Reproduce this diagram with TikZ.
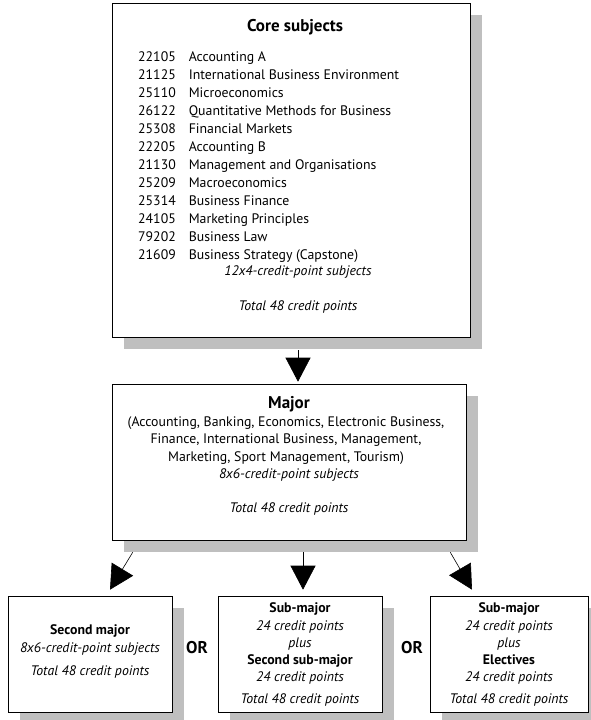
\documentclass[tikz,border=0pt]{standalone}
\usepackage{fontspec}
\setmainfont{PT Sans}
\usetikzlibrary{arrows.meta,shadows}
\begin{document}
\begin{tikzpicture}[x=1pt,y=-1pt,
  box/.style={draw=black, line width=0.6pt, fill=white, inner sep=0pt,
    general shadow={fill=gray!50, shadow xshift=12pt, shadow yshift=-12pt}},
  txt/.style={font=\fontsize{13.8}{18}\selectfont, inner sep=0pt, anchor=base},
  itx/.style={font=\fontsize{13.8}{18}\selectfont\itshape, inner sep=0pt, anchor=base},
  ttl/.style={font=\fontsize{17}{20}\selectfont\bfseries, inner sep=0pt, anchor=base},
  btx/.style={font=\fontsize{13.8}{18}\selectfont\bfseries, inner sep=0pt, anchor=base},
  arr/.style={line width=0.6pt, -{Triangle[length=24pt,width=25pt]}}]
\useasboundingbox (0,0) rectangle (590,720);
% boxes
\node[box, minimum width=358pt, minimum height=334pt] (core) at (291,170) {};
\node[box, minimum width=354pt, minimum height=156pt] (major) at (289,462) {};
\node[box, minimum width=164pt, minimum height=116pt] (left) at (90,654) {};
\node[box, minimum width=164pt, minimum height=116pt] (mid) at (300,654) {};
\node[box, minimum width=158pt, minimum height=116pt] (right) at (509,654) {};
% core text
\node[ttl] (coretitle) at (295,31) {Core subjects};
\node[font=\fontsize{13.8}{18}\selectfont, inner sep=0pt, anchor=north west] (subjects) at (138,48.5) {%
\begin{tabular}{@{}l@{\hspace{13pt}}l@{}}
22105 & Accounting A\\
21125 & International Business Environment\\
25110 & Microeconomics\\
26122 & Quantitative Methods for Business\\
25308 & Financial Markets\\
22205 & Accounting B\\
21130 & Management and Organisations\\
25209 & Macroeconomics\\
25314 & Business Finance\\
24105 & Marketing Principles\\
79202 & Business Law\\
21609 & Business Strategy (Capstone)
\end{tabular}};
\node[itx] (coresub) at (298,275) {12x4-credit-point subjects};
\node[itx] (coretot) at (298,310) {Total 48 credit points};
% major text
\node[ttl] (majtitle) at (289,408) {Major};
\node[txt] (majl1) at (286,426) {(Accounting, Banking, Economics, Electronic Business,};
\node[txt] (majl2) at (286,443) {Finance, International Business, Management,};
\node[txt] (majl3) at (286,461) {Marketing, Sport Management, Tourism)};
\node[itx] (majsub) at (289,478) {8x6-credit-point subjects};
\node[itx] (majtot) at (289,512) {Total 48 credit points};
% left box text
\node[btx] (lt1) at (90,634) {Second major};
\node[itx] (lt2) at (90,652) {8x6-credit-point subjects};
\node[itx] (lt3) at (90,675) {Total 48 credit points};
% middle box text
\node[btx] (mt1) at (300,612) {Sub-major};
\node[itx] (mt2) at (300,630) {24 credit points};
\node[itx] (mt3) at (300,647) {plus};
\node[btx] (mt4) at (300,664) {Second sub-major};
\node[itx] (mt5) at (300,681) {24 credit points};
\node[itx] (mt6) at (300,703) {Total 48 credit points};
% right box text
\node[btx] (rt1) at (509,612) {Sub-major};
\node[itx] (rt2) at (509,630) {24 credit points};
\node[itx] (rt3) at (509,647) {plus};
\node[btx] (rt4) at (509,664) {Electives};
\node[itx] (rt5) at (509,681) {24 credit points};
\node[itx] (rt6) at (509,703) {Total 48 credit points};
% OR labels
\node[ttl] (or1) at (197,653) {OR};
\node[ttl] (or2) at (412,653) {OR};
% arrows
\draw[arr] ([xshift=7pt,yshift=-13pt]core.south) -- ([xshift=9pt,yshift=2pt]major.north);
\draw[arr] ([xshift=21pt,yshift=-12pt]major.south west) -- ([xshift=20pt,yshift=6pt]left.north);
\draw[arr] ([xshift=14pt,yshift=-12pt]major.south) -- ([xshift=3pt,yshift=6pt]mid.north);
\draw[arr] ([xshift=-16pt,yshift=-12pt]major.south east) -- ([xshift=-37pt,yshift=6pt]right.north);
\end{tikzpicture}
\end{document}
